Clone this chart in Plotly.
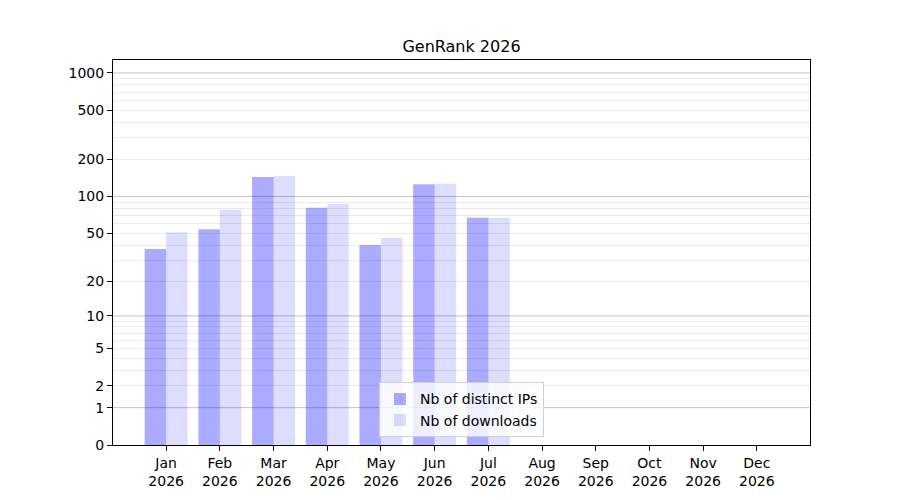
import numpy as np
import plotly.graph_objects as go

# monthly stats
months = ["Jan", "Feb", "Mar", "Apr", "May", "Jun",
          "Jul", "Aug", "Sep", "Oct", "Nov", "Dec"]
year = "2026"
distinct_ips = [37, 54, 144, 81, 40, 126, 67, 0, 0, 0, 0, 0]
downloads = [51, 78, 147, 87, 46, 127, 67, 0, 0, 0, 0, 0]

major_vals = [0, 1, 2, 5, 10, 20, 50, 100, 200, 500, 1000]
minor_vals = [m * 10 ** e for e in range(3) for m in range(2, 10)]
grid_major = [1, 10, 100, 1000]


def fwd(v):
    # symlog-ish transform used by the original: log10(1 + x)
    return np.log10(1 + np.asarray(v, dtype=float))


x = np.arange(len(months))
tick_text = [f"{m}<br>{year}" for m in months]

fig = go.Figure()
fig.add_trace(go.Bar(
    x=x - 0.2, y=fwd(distinct_ips), width=0.4,
    marker=dict(color="rgba(0,0,255,0.33)", line=dict(width=0)),
    name="Nb of distinct IPs",
))
fig.add_trace(go.Bar(
    x=x + 0.2, y=fwd(downloads), width=0.4,
    marker=dict(color="rgba(0,0,255,0.135)", line=dict(width=0)),
    name="Nb of downloads",
))

# page body has an 8px margin, so shift everything up/left by that much
fig.update_layout(
    width=900, height=500,
    paper_bgcolor="white", plot_bgcolor="white",
    font=dict(family="DejaVu Sans", size=14, color="black"),
    title=dict(text="GenRank 2026", x=(105 + 697 / 2) / 900, xanchor="center",
               y=1 - 38 / 500, yanchor="middle", font=dict(size=16)),
    margin=dict(l=105, r=98, t=52, b=63, autoexpand=False),
    barmode="overlay",
    showlegend=True,
    legend=dict(x=0.5, xanchor="center", y=0.02, yanchor="bottom",
                bgcolor="rgba(255,255,255,0.8)", bordercolor="#d0d0d0",
                borderwidth=1, font=dict(size=14), tracegroupgap=0),
    xaxis=dict(
        range=[-0.99, 11.99], tickmode="array", tickvals=x, ticktext=tick_text,
        showgrid=False, zeroline=False, showline=True, linecolor="black",
        linewidth=1, mirror=True, ticks="outside", ticklen=5,
        tickcolor="black", automargin=False,
    ),
    yaxis=dict(
        range=[0, 3.105], tickmode="array", tickvals=fwd(major_vals),
        ticktext=[str(v) for v in major_vals],
        showgrid=False, zeroline=False, showline=True, linecolor="black",
        linewidth=1, mirror=True, ticks="outside", ticklen=5,
        tickcolor="black", automargin=False,
        minor=dict(tickmode="array", tickvals=list(fwd(minor_vals)),
                   ticks="", showgrid=True, gridcolor="#ebebeb",
                   gridwidth=1),
    ),
)

# major gridlines at the decades
for v in grid_major:
    fig.add_shape(type="line", xref="paper", x0=0, x1=1, yref="y",
                  y0=float(fwd(v)), y1=float(fwd(v)),
                  line=dict(color="#c4c4c4", width=1), layer="below")

fig.write_html("out.html")
